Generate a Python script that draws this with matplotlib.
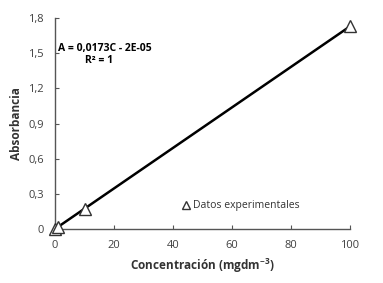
import numpy as np
import matplotlib.pyplot as plt

plt.rcParams['font.family'] = ['Open Sans', 'DejaVu Sans']

# datos
conc = [0, 1, 10, 100]
absorb = [0.0, 0.017, 0.173, 1.73]
xticks = [0, 20, 40, 60, 80, 100]
yticks = [0, 0.3, 0.6, 0.9, 1.2, 1.5, 1.8]
ylabels = ['0', '0,3', '0,6', '0,9', '1,2', '1,5', '1,8']

# ajuste lineal
m, b = np.polyfit(conc, absorb, 1)
xl = np.array([0, 100])

fig = plt.figure(figsize=(3.83, 2.83), dpi=100)
ax = fig.add_axes([0.1436, 0.191, 0.7704, 0.745])
ax.plot(xl, m * xl + b, color='black', lw=1.8, zorder=2)
ax.plot(conc, absorb, linestyle='none', marker='^', ms=9, mfc='white',
        mec='#333333', mew=1.0, zorder=3, clip_on=False, label='Datos experimentales')
ax.set_xlim(0, 100)
ax.set_ylim(0, 1.8)
ax.set_xticks(xticks)
ax.set_yticks(yticks)
ax.set_yticklabels(ylabels)
ax.tick_params(direction='in', length=3, labelsize=8, colors='#555555', labelcolor='#404040', pad=8)
for s in ['top', 'right']:
    ax.spines[s].set_visible(False)
for s in ['left', 'bottom']:
    ax.spines[s].set_color('#555555')
    ax.spines[s].set_linewidth(1.0)

ax.set_xlabel('Concentración (mgdm$^{\\mathregular{-3}}$)', fontsize=8.5, fontweight='bold', color='#333333', labelpad=4)
ax.set_ylabel('Absorbancia', fontsize=8.5, fontweight='bold', color='#333333', labelpad=4)

ax.text(1, 1.54, 'A = 0,0173C - 2E-05', fontsize=7.5, fontweight='bold', color='black', va='center')
ax.text(15, 1.44, 'R² = 1', fontsize=7.5, fontweight='bold', color='black', va='center', ha='center')

ax.legend(loc='center left', bbox_to_anchor=(0.43, 0.11), frameon=False, fontsize=7.5,
          handlelength=0.8, handletextpad=0.3, markerscale=0.7, labelcolor='#333333',
          borderaxespad=0, borderpad=0)

plt.savefig('out.png', dpi=100)
